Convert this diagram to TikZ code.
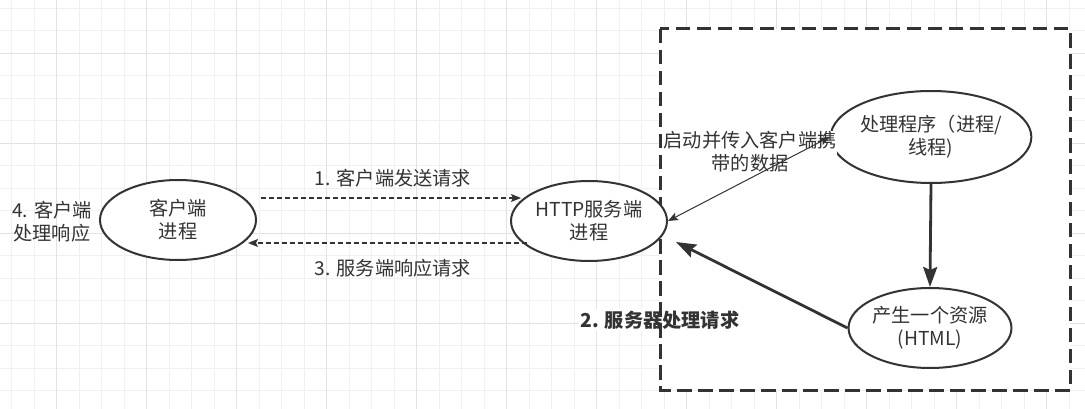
\documentclass[tikz,border=0pt]{standalone}
\usepackage{fontspec}
\setmainfont{Noto Sans CJK SC}
\usetikzlibrary{arrows.meta,shapes.geometric}
\definecolor{ink}{HTML}{333333}
\definecolor{gridminor}{HTML}{F0F0F0}
\definecolor{gridmajor}{HTML}{E2E2E2}
\tikzset{
  txt/.style={font=\fontsize{19.2}{23}\selectfont, text=ink, align=center, inner sep=0pt},
  oval/.style={ellipse, draw=ink, line width=2pt, fill=white, inner sep=0pt, txt},
  thinarrow/.style={draw=ink, line width=1.1pt, -{Stealth[length=10pt,width=8pt,inset=2pt]}},
  dasharrow/.style={thinarrow, dash pattern=on 5pt off 3pt},
  thickarrow/.style={draw=ink, line width=2.8pt, -{Stealth[length=20pt,width=14pt,inset=3pt]}},
  boxline/.style={draw=ink, line width=3pt, dash pattern=on 14.5pt off 6.5pt},
}
\begin{document}
\begin{tikzpicture}[x=1pt,y=-1pt]
\useasboundingbox[fill=white] (0,0) rectangle (1085,409);
% grid
\foreach \k in {0,...,48} \draw[gridminor, line width=1pt] ({11.7+22.5*\k},0) -- ({11.7+22.5*\k},409);
\foreach \k in {0,...,18} \draw[gridminor, line width=1pt] (0,{8.3+22.5*\k}) -- (1085,{8.3+22.5*\k});
\foreach \k in {0,...,11} \draw[gridmajor, line width=1pt] ({56.7+90*\k},0) -- ({56.7+90*\k},409);
\foreach \k in {0,...,4} \draw[gridmajor, line width=1pt] (0,{53.3+90*\k}) -- (1085,{53.3+90*\k});

% server box background
\fill[white] (660,29) rectangle (1070,390);
\node[txt, fill=white, inner sep=2pt, font=\fontsize{19.2}{23}\selectfont\bfseries] (step2) at (660,320) {2. 服务器处理请求};
\draw[boxline] (660,29) rectangle (1070,390);

% nodes
\node[oval, minimum width=156pt, minimum height=80pt] (client) at (178,220) {客户端\\进程};
\node[oval, minimum width=156pt, minimum height=80pt] (http) at (589,221) {HTTP服务端\\进程};
\node[oval, minimum width=184pt, minimum height=92pt] (proc) at (931,137) {处理程序（进程/\\线程)};
\node[oval, minimum width=156pt, minimum height=80pt] (res) at (930,328) {产生一个资源\\(HTML)};

\node[txt] (step4) at (52,222) {4. 客户端\\处理响应};
\node[txt] (step1) at (393,178) {1. 客户端发送请求};
\node[txt] (step3) at (393,268) {3. 服务端响应请求};
\node[txt, fill=white, inner sep=1pt] (startlbl) at (750,152) {启动并传入客户端携\\带的数据};

% connectors
\draw[dasharrow] ([shift={(4,-22)}]client.east) -- ([shift={(11,-23)}]http.west);
\draw[dasharrow] ([shift={(17,22)}]http.west) -- ([shift={(-9,23)}]client.east);
\draw[draw=ink, line width=1pt, {Stealth[length=10pt,width=8pt,inset=2pt]}-{Stealth[length=10pt,width=8pt,inset=2pt]}] (http.east) -- (proc.west);
\draw[thickarrow] (proc.south) -- (res.north);
\draw[thickarrow] (res.west) -- ([shift={(8,21)}]http.east);
\end{tikzpicture}
\end{document}
